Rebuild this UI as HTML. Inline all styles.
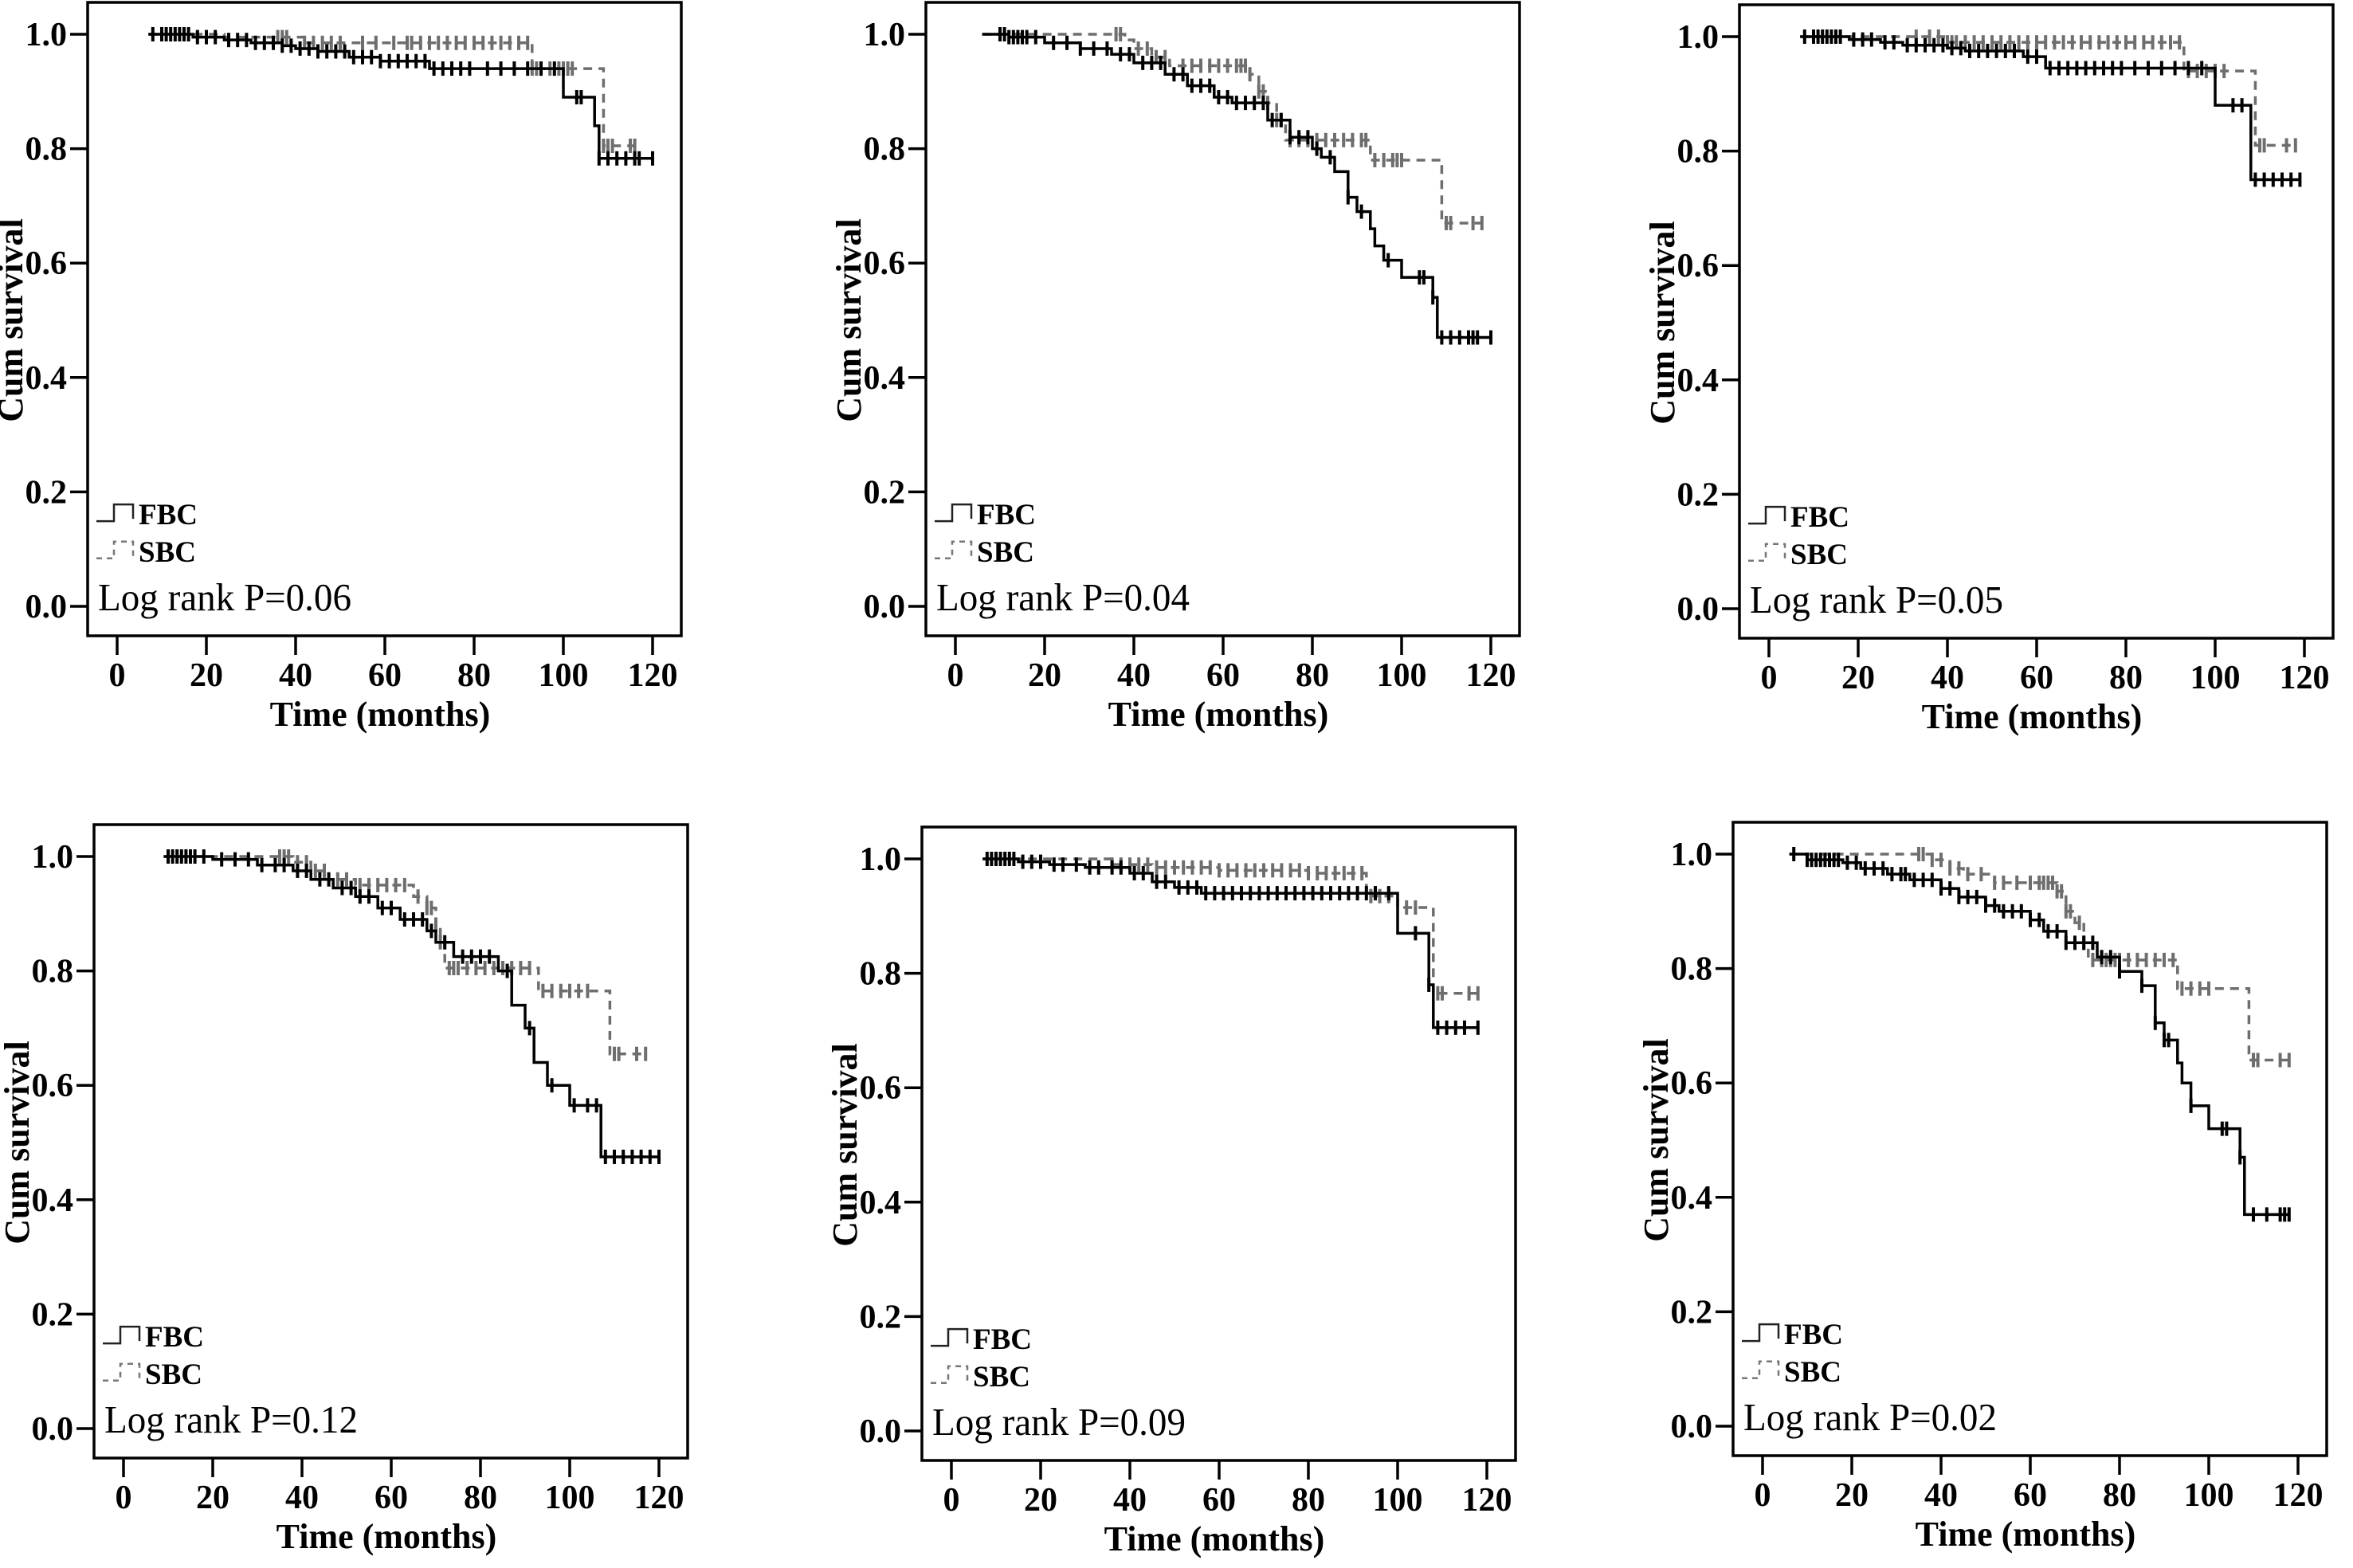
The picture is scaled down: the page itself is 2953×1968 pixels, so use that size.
<!DOCTYPE html>
<html><head><meta charset="utf-8"><style>
html,body{margin:0;padding:0;background:#fff;}
svg{display:block;}
</style></head><body>
<svg id="fig" width="2953" height="1968" viewBox="0 0 2953 1968" xmlns="http://www.w3.org/2000/svg"></svg>
<script>
// ---- data (months, cumulative survival) ----
const xTicks = [0,20,40,60,80,100,120];
const yTicks = [0.0,0.2,0.4,0.6,0.8,1.0];
const yTickLabels = ["0.0","0.2","0.4","0.6","0.8","1.0"];
const pValues = ["0.06","0.04","0.05","0.12","0.09","0.02"];

const p1FbcT = [7,17,24,30,37,40,45,52,59,70,100,107,108];
const p1FbcS = [1.0,0.995,0.99,0.985,0.98,0.975,0.97,0.96,0.953,0.94,0.89,0.84,0.783];
const p1FbcC = [8,10,11,12,13,14,15,16,18,20,22,25,27,29,31,33,35,37,39,41,43,45,47,49,51,53,55,57,59,61,63,65,67,69,71,73,75,77,79,83,86,89,92,95,98,103,104,108,110,112,114,116,117,120];
const p1SbcT = [7,24,42,93,109];
const p1SbcS = [1.0,0.995,0.985,0.94,0.805];
const p1SbcC = [36,37,38,42,44,46,48,50,55,58,62,65,66,68,70,72,74,76,78,80,82,84,86,88,90,92,93,94,95,97,99,100,101,102,109,110,111,115,116];

const p2FbcT = [6,12,20,28,35,40,47,52,58,62,70,75,80,82,85,88,90,93,94,96,100,107,108];
const p2FbcS = [1.0,0.995,0.985,0.975,0.965,0.95,0.93,0.91,0.89,0.88,0.85,0.82,0.80,0.785,0.76,0.715,0.69,0.66,0.63,0.605,0.575,0.54,0.47];
const p2FbcC = [10,11,12,13,14,15,16,18,22,25,28,31,34,37,39,42,44,46,49,51,53,55,57,59,61,63,65,67,69,71,73,75,77,79,81,84,88,91,97,104,105,107,109,111,113,115,116,117,120];
const p2SbcT = [6,20,38,40,44,48,66,68,70,72,74,93,109];
const p2SbcS = [1.0,1.0,0.99,0.975,0.96,0.945,0.93,0.90,0.88,0.85,0.815,0.78,0.67];
const p2SbcC = [36,37,41,43,45,47,51,53,55,57,59,61,63,64,65,66,68,69,70,72,73,75,77,79,81,83,85,87,89,91,92,94,96,98,99,100,110,111,116,118];

const p3FbcT = [7,18,25,30,40,44,57,62,100,108];
const p3FbcS = [1.0,0.995,0.99,0.985,0.98,0.975,0.965,0.945,0.88,0.75];
const p3FbcC = [8,10,11,12,13,14,15,16,19,21,23,26,28,31,33,35,37,39,41,43,45,47,49,51,53,55,58,60,63,65,67,69,71,73,75,77,79,82,85,88,91,94,97,104,106,109,111,113,115,117,119];
const p3SbcT = [7,35,40,93,109];
const p3SbcS = [1.0,1.0,0.99,0.94,0.81];
const p3SbcC = [33,36,38,40,41,42,44,46,48,50,52,54,56,58,60,62,64,66,68,70,72,74,76,78,80,82,84,86,88,90,92,94,96,98,100,102,110,111,116,118];

const p4FbcT = [9,20,30,38,42,47,52,57,62,68,70,74,84,87,90,92,95,100,107];
const p4FbcS = [1.0,0.995,0.985,0.975,0.96,0.945,0.93,0.91,0.89,0.87,0.85,0.825,0.80,0.74,0.70,0.64,0.60,0.565,0.475];
const p4FbcC = [10,11,12,13,14,15,16,18,22,25,28,31,34,36,39,41,44,46,49,51,53,55,58,60,63,65,67,69,72,76,78,80,82,86,91,96,101,104,106,108,110,112,114,116,118,120];
const p4SbcT = [9,35,38,42,46,52,65,68,70,71,72,93,109];
const p4SbcS = [1.0,1.0,0.99,0.975,0.96,0.95,0.93,0.91,0.88,0.85,0.805,0.765,0.655];
const p4SbcC = [35,36,37,39,41,43,45,48,50,53,55,57,59,61,63,66,68,69,70,71,73,74,75,77,79,81,83,85,87,89,91,94,96,98,100,102,104,110,111,115,117];

const p5FbcT = [7,15,22,30,40,45,50,56,100,107,108];
const p5FbcS = [1.0,0.995,0.99,0.985,0.975,0.96,0.95,0.94,0.87,0.78,0.705];
const p5FbcC = [8,9,10,11,12,13,14,16,18,20,23,25,28,31,33,36,38,41,43,46,48,51,53,55,57,59,61,63,65,67,69,71,73,75,77,79,81,83,85,87,89,91,93,95,98,104,107,109,111,113,115,118];
const p5SbcT = [7,30,36,45,60,80,93,100,108];
const p5SbcS = [1.0,1.0,0.99,0.985,0.98,0.975,0.935,0.915,0.765];
const p5SbcC = [36,38,40,42,44,46,48,50,52,54,56,58,60,62,64,66,68,70,72,74,76,78,80,82,84,86,88,90,92,94,96,98,102,104,109,110,116,118];

const p6FbcT = [6,10,18,22,28,33,40,44,50,53,60,63,68,75,80,85,88,90,93,94,96,100,107,108];
const p6FbcS = [1.0,0.99,0.985,0.975,0.965,0.955,0.94,0.925,0.91,0.90,0.885,0.865,0.845,0.82,0.795,0.77,0.705,0.675,0.635,0.60,0.56,0.52,0.47,0.37];
const p6FbcC = [7,10,11,12,13,14,15,16,17,19,21,23,25,27,29,31,32,34,36,38,40,42,44,46,48,50,52,54,56,58,60,62,64,66,68,70,72,74,76,78,80,85,88,90,91,96,103,104,107,110,113,116,117,118];
const p6SbcT = [6,35,38,42,45,52,66,68,70,72,73,93,109];
const p6SbcS = [1.0,1.0,0.99,0.975,0.965,0.95,0.935,0.90,0.88,0.845,0.815,0.765,0.64];
const p6SbcC = [35,36,38,40,42,44,46,49,52,54,57,60,62,63,64,65,66,67,68,69,71,72,74,76,77,78,79,80,82,84,86,88,90,92,94,96,98,100,110,111,116,118];

// ---- layout ----
const panels = [
 {L:110, T:3,    fT:p1FbcT,fS:p1FbcS,fC:p1FbcC,sT:p1SbcT,sS:p1SbcS,sC:p1SbcC},
 {L:1162,T:3,    fT:p2FbcT,fS:p2FbcS,fC:p2FbcC,sT:p2SbcT,sS:p2SbcS,sC:p2SbcC},
 {L:2183,T:6,    fT:p3FbcT,fS:p3FbcS,fC:p3FbcC,sT:p3SbcT,sS:p3SbcS,sC:p3SbcC},
 {L:118, T:1035, fT:p4FbcT,fS:p4FbcS,fC:p4FbcC,sT:p4SbcT,sS:p4SbcS,sC:p4SbcC},
 {L:1157,T:1038, fT:p5FbcT,fS:p5FbcS,fC:p5FbcC,sT:p5SbcT,sS:p5SbcS,sC:p5SbcC},
 {L:2175,T:1032, fT:p6FbcT,fS:p6FbcS,fC:p6FbcC,sT:p6SbcT,sS:p6SbcS,sC:p6SbcC}
];
const BW=745, BH=795, NS="http://www.w3.org/2000/svg";
const svg=document.getElementById('fig');
function mk(tag,attrs,parent){const e=document.createElementNS(NS,tag);for(const k in attrs)e.setAttribute(k,attrs[k]);(parent||svg).appendChild(e);return e;}
function survAt(T,S,t){let v=S[0];for(let i=0;i<T.length;i++){if(T[i]<=t)v=S[i];}return v;}

panels.forEach((p,i)=>{
  const g=mk('g',{});
  
  
  const y1=p.T+40, y0=y1+718, x0=p.L+37, pxPerM=5.6;
  const X=t=>x0+t*pxPerM, Y=s=>y0-(s)*(y0-y1);
  const box=mk('rect',{x:p.L,y:p.T,width:BW,height:BH,fill:'none',stroke:'#000','stroke-width':3.5},g);
  
  
  yTicks.forEach((v,k)=>{
    mk('line',{x1:p.L-22,x2:p.L,y1:Y(v),y2:Y(v),stroke:'#000','stroke-width':3.5},g);
    const t=mk('text',{x:p.L-26,y:Y(v)+14,'text-anchor':'end','font-family':'Liberation Serif, serif','font-weight':'bold','font-size':42},g);
    t.textContent=yTickLabels[k];
    
    
  });
  xTicks.forEach(v=>{
    mk('line',{x1:X(v),x2:X(v),y1:p.T+BH,y2:p.T+BH+24,stroke:'#000','stroke-width':3.5},g);
    const t=mk('text',{x:X(v),y:p.T+BH+63,'text-anchor':'middle','font-family':'Liberation Serif, serif','font-weight':'bold','font-size':42},g);
    t.textContent=String(v);
    
    
  });
  const xt=mk('text',{x:x0+330,y:p.T+BH+113,'text-anchor':'middle','font-family':'Liberation Serif, serif','font-weight':'bold','font-size':44},g);
  xt.textContent='Time  (months)';
  
  
  const yt=mk('text',{x:0,y:0,'text-anchor':'middle','font-family':'Liberation Serif, serif','font-weight':'bold','font-size':44,transform:`translate(${p.L-82},${(y0+y1)/2}) rotate(-90)`},g);
  yt.textContent='Cum survival';
  
  
  const series=[{T:p.sT,S:p.sS,C:p.sC,col:'#6e6e6e',dash:'11,8',name:'sbc'},{T:p.fT,S:p.fS,C:p.fC,col:'#000',dash:'',name:'fbc'}];
  series.forEach(s=>{
    const end=Math.max(s.C[s.C.length-1],s.T[s.T.length-1]);
    let d=`M${X(s.T[0])},${Y(s.S[0])}`;
    for(let k=1;k<s.T.length;k++){d+=` H${X(s.T[k])} V${Y(s.S[k])}`;}
    d+=` H${X(end)}`;
    const path=mk('path',{d:d,fill:'none',stroke:s.col,'stroke-width':3.5,'stroke-dasharray':s.dash},g);
    
    
    s.C.forEach(c=>{
      const yy=Y(survAt(s.T,s.S,c));
      const m=mk('line',{x1:X(c),x2:X(c),y1:yy-9,y2:yy+9,stroke:s.col,'stroke-width':4},g);
      
      
    });
  });
  const lx=p.L+11, lyF=Y(0.16), lyS=Y(0.095);
  const lf=mk('path',{d:`M${lx},${lyF+8} H${lx+22} V${lyF-13} H${lx+46} V${lyF+5}`,fill:'none',stroke:'#222','stroke-width':2.5},g);
  
  
  const ls=mk('path',{d:`M${lx},${lyS+8} H${lx+22} V${lyS-13} H${lx+46} V${lyS+5}`,fill:'none',stroke:'#777','stroke-width':2.5,'stroke-dasharray':'7,6'},g);
  
  
  const tf=mk('text',{x:lx+53,y:lyF+12,'font-family':'Liberation Serif, serif','font-weight':'bold','font-size':37},g);
  tf.textContent='FBC';
  
  
  const ts=mk('text',{x:lx+53,y:lyS+12,'font-family':'Liberation Serif, serif','font-weight':'bold','font-size':37},g);
  ts.textContent='SBC';
  
  
  const lr=mk('text',{x:p.L+13,y:y0+5,'font-family':'Liberation Serif, serif','font-size':49,textLength:318,lengthAdjust:'spacingAndGlyphs'},g);
  lr.textContent='Log rank P='+pValues[i];
  
  
});
</script>
</body></html>
